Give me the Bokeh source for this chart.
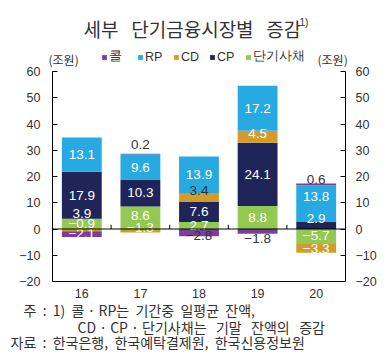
import numpy as np
from bokeh.plotting import figure
from bokeh.models import Range1d, LinearAxis, Label, Legend, LegendItem, ColumnDataSource
from bokeh.core.properties import value
from bokeh.embed import file_html
from bokeh.resources import INLINE

# ---- data ----
categories = ["16", "17", "18", "19", "20"]
series_names = ["콜", "RP", "CD", "CP", "단기사채"]
call = [-2.1, 0.2, -2.8, -1.8, 0.6]
rp = [13.1, 9.6, 13.9, 17.2, 13.8]
cd = [-0.9, -1.3, 3.4, 4.5, -3.3]
cp = [17.9, 10.3, 7.6, 24.1, 2.9]
stb = [3.9, 8.6, 2.7, 8.8, -5.7]
y_ticks = [-20, -10, 0, 10, 20, 30, 40, 50, 60]

NB = "\u00a0"
title_text = "세부" + NB * 3 + "단기금융시장별" + NB * 3 + "증감"
unit_text = "(조원)"
note_lines = [
    "주" + NB * 2 + ":" + NB * 2 + "1)" + NB * 2 + "콜" + NB + "·" + NB + "RP는" + NB * 2
    + "기간중" + NB * 2 + "일평균" + NB * 2 + "잔액,",
    "CD" + NB + "·" + NB + "CP" + NB + "·" + NB + "단기사채는" + NB * 3 + "기말" + NB * 3
    + "잔액의" + NB * 3 + "증감",
    "자료" + NB * 2 + ":" + NB * 2 + "한국은행," + NB * 2 + "한국예탁결제원," + NB * 2 + "한국신용정보원",
]

colors = {"콜": "#7a3e9d", "RP": "#27aae1", "CD": "#d39b2c", "CP": "#1f2558", "단기사채": "#93c852"}
values = {"콜": call, "RP": rp, "CD": cd, "CP": cp, "단기사채": stb}
stack_order = ["단기사채", "CP", "CD", "RP", "콜"]

# label nudges (data units) to avoid overlaps, as in the reference
nudge = {
    "단기사채": [4.0, 0.8, 0.0, 0.0, 0.3],
    "CP": [0.0, 0.0, 0.0, 0.0, 2.6],
    "CD": [2.5, 1.2, 2.5, 1.2, 0.0],
    "RP": [0.0, -0.4, 0.0, 0.0, 2.6],
    "콜": [0.3, 3.6, -1.1, -2.7, 1.8],
}
dark_labels = {("콜", 1), ("콜", 2), ("콜", 3), ("콜", 4), ("CD", 2)}

FONT = "Liberation Sans"
KFONT = "Noto Sans CJK KR"
TXT = "#333333"

# ---- layout (pixels) ----
W, H = 388, 357
FL, FR, FT, FB = 52, 345, 71, 281   # plotting area edges
n = len(categories)
y_lo, y_hi = y_ticks[0], y_ticks[-1]
x_lo, x_hi = 0.5, n + 0.5
ypx = (FB - FT) / (y_hi - y_lo)
xpx = (FR - FL) / (x_hi - x_lo)

p = figure(width=W, height=H, output_backend="svg", toolbar_location=None,
           x_range=Range1d(x_lo - FL / xpx, x_hi + (W - FR) / xpx),
           y_range=Range1d(y_lo - (H - FB) / ypx, y_hi + FT / ypx),
           min_border=0, x_axis_location=None, y_axis_location=None)
p.outline_line_color = None
p.xgrid.visible = False
p.ygrid.visible = False
p.title.visible = False

x = np.arange(1, n + 1)
pos_base = np.zeros(n)
neg_base = np.zeros(n)
renderers = {}
label_x, label_y, label_t, label_c = [], [], [], []
for name in stack_order:
    v = np.array(values[name], dtype=float)
    bottom = np.where(v >= 0, pos_base, neg_base + v)
    topv = np.where(v >= 0, pos_base + v, neg_base)
    pos_base = np.where(v >= 0, pos_base + v, pos_base)
    neg_base = np.where(v < 0, neg_base + v, neg_base)
    src = ColumnDataSource(dict(x=x, bottom=bottom, top=topv))
    renderers[name] = p.vbar(x="x", bottom="bottom", top="top", width=0.68, source=src,
                             fill_color=colors[name], line_color=None)
    for i in range(n):
        label_x.append(x[i])
        label_y.append((bottom[i] + topv[i]) / 2 + nudge[name][i])
        t = f"{abs(v[i]):.1f}"
        label_t.append(("−" if v[i] < 0 else "") + t)
        label_c.append(TXT if (name, i) in dark_labels else "white")

p.text(x=label_x, y=label_y, text=label_t, text_color=label_c,
       text_font=value(FONT), text_font_size="13.5px",
       text_align="center", text_baseline="middle")

# zero line and category boundary ticks
p.segment(x0=[x_lo], x1=[x_hi], y0=[0], y1=[0], line_color="black", line_width=1)
bounds = x[:-1] + 0.5
p.segment(x0=bounds, x1=bounds, y0=np.zeros(len(bounds)), y1=np.full(len(bounds), 1.6),
          line_color="black", line_width=1)

# axes
overrides = {t: (("−" + str(abs(t))) if t < 0 else str(t)) for t in y_ticks}
for loc, fx, standoff in [("left", x_lo, 12), ("right", x_hi, 10)]:
    ax = LinearAxis(ticker=y_ticks, major_label_overrides=overrides,
                    fixed_location=fx, bounds=(y_lo, y_hi))
    ax.major_tick_in = 5
    ax.major_tick_out = 0
    ax.minor_tick_line_color = None
    ax.axis_line_color = "black"
    ax.major_tick_line_color = "black"
    ax.major_label_text_font = FONT
    ax.major_label_text_font_size = "12.5px"
    ax.major_label_text_color = TXT
    ax.major_label_standoff = standoff
    p.add_layout(ax, loc)

xax = LinearAxis(ticker=list(x), major_label_overrides={int(i): c for i, c in zip(x, categories)},
                 fixed_location=y_lo, bounds=(x_lo, x_hi))
xax.major_tick_line_color = None
xax.minor_tick_line_color = None
xax.axis_line_color = "black"
xax.major_label_text_font = FONT
xax.major_label_text_font_size = "12.5px"
xax.major_label_text_color = TXT
xax.major_label_standoff = 1
p.add_layout(xax, "below")

# legend
legend = Legend(items=[LegendItem(label=nm, renderers=[renderers[nm]]) for nm in series_names],
                location=(101, H - 65), orientation="horizontal",
                glyph_width=6, glyph_height=6, label_standoff=2, spacing=8,
                padding=0, margin=0, border_line_color=None, background_fill_alpha=0,
                label_text_font=FONT, label_text_font_size="12.5px",
                label_text_color=TXT, label_height=14)
p.add_layout(legend)


def lab(text, ax_, ay_, size, font=KFONT, color=TXT):
    # ax_, ay_: pixel position from the picture's top-left
    p.add_layout(Label(x=ax_, y=H - ay_, x_units="screen", y_units="screen", text=text,
                       text_font=font, text_font_size=size, text_color=color,
                       text_align="left", text_baseline="middle"))


lab(title_text, 83, 28, "19px", color="#333333")
lab("1)", 299, 22, "10px", font=FONT, color="#333333")
lab(unit_text, 48, 58.5, "12px")
lab(unit_text, 317, 58.5, "12px")
lab(note_lines[0], 23, 309, "14px")
lab(note_lines[1], 77, 326, "14px")
lab(note_lines[2], 10, 341.5, "14px")

open("out.html", "w").write(file_html(p, INLINE))
